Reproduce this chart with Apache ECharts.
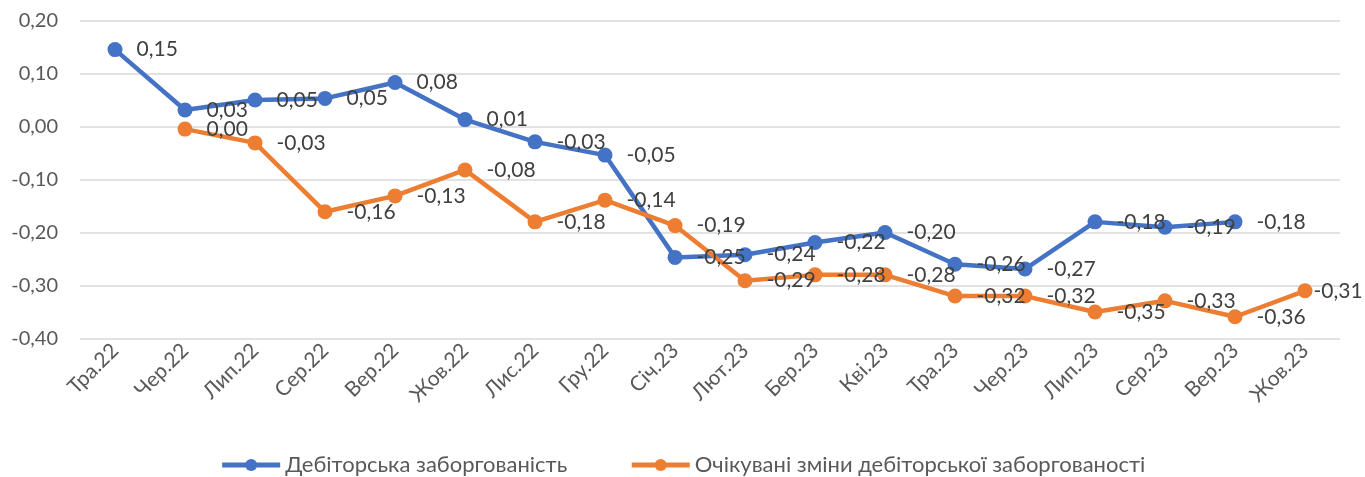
<!DOCTYPE html>
<html>
<head>
    <meta charset="utf-8" />
    <title></title>
    <script src="https://cdn.jsdelivr.net/npm/echarts@6/dist/echarts.min.js"></script>
    <style>
        html, body { margin: 0; padding: 0; background: #fff; }
    </style>
</head>
<body>
    <div id="main" style="width: 1365px; height: 477px;"></div>
    <script type="text/javascript">
        // місяці
        var months = ['Тра.22', 'Чер.22', 'Лип.22', 'Сер.22', 'Вер.22', 'Жов.22', 'Лис.22', 'Гру.22', 'Січ.23',
            'Лют.23', 'Бер.23', 'Кві.23', 'Тра.23', 'Чер.23', 'Лип.23', 'Сер.23', 'Вер.23', 'Жов.23'];
        var debtName = 'Дебіторська заборгованість';
        var expectName = 'Очікувані зміни дебіторської заборгованості';
        // значення
        var debt = [0.146, 0.032, 0.051, 0.054, 0.084, 0.014, -0.028, -0.053, -0.246,
            -0.241, -0.218, -0.199, -0.259, -0.268, -0.179, -0.189, -0.179, null];
        var expect = [null, -0.004, -0.030, -0.160, -0.130, -0.081, -0.179, -0.138, -0.186,
            -0.290, -0.279, -0.279, -0.319, -0.319, -0.349, -0.328, -0.358, -0.309];

        var font = 'Lato, "Open Sans", sans-serif';

        function fmt(v) {
            var r = Math.round(v * 100) / 100;
            if (r === 0) r = 0;
            return r.toFixed(2).replace('.', ',');
        }

        // останній підпис притиснутий до маркера, щоб не вилазив за край
        var expectData = expect.map(function (v, i) {
            if (i === expect.length - 1) {
                return { value: v, label: { distance: 1 } };
            }
            return v;
        });

        var myChart = echarts.init(document.getElementById('main'));
        var option = {
            animation: false,
            color: ['#4472C4', '#ED7D31'],
            grid: {
                left: 80,
                right: 25,
                top: 21,
                bottom: 138
            },
            legend: {
                top: 449,
                left: 'center',
                itemWidth: 58,
                itemHeight: 15,
                itemGap: 62,
                lineStyle: { width: 5 },
                textStyle: { fontFamily: font, fontSize: 22, color: '#595959' },
                data: [debtName, expectName]
            },
            xAxis: {
                type: 'category',
                data: months,
                boundaryGap: true,
                axisLine: { show: false },
                axisTick: { show: false },
                axisLabel: {
                    rotate: 45,
                    margin: 8,
                    interval: 0,
                    fontFamily: font,
                    fontSize: 21,
                    color: '#595959'
                }
            },
            yAxis: {
                type: 'value',
                min: -0.4,
                max: 0.2,
                interval: 0.1,
                axisLabel: {
                    margin: 22,
                    fontFamily: font,
                    fontSize: 20,
                    color: '#595959',
                    formatter: function (v) { return fmt(v); }
                },
                splitLine: { lineStyle: { color: '#d9d9d9', width: 1.5 } }
            },
            series: [
                {
                    name: debtName,
                    type: 'line',
                    data: debt,
                    symbol: 'circle',
                    symbolSize: 15,
                    lineStyle: { width: 4.5 },
                    label: {
                        show: true,
                        position: 'right',
                        distance: 14,
                        fontFamily: font,
                        fontSize: 21,
                        color: '#404040',
                        formatter: function (p) { return fmt(p.value); }
                    }
                },
                {
                    name: expectName,
                    type: 'line',
                    data: expectData,
                    symbol: 'circle',
                    symbolSize: 15,
                    lineStyle: { width: 4.5 },
                    label: {
                        show: true,
                        position: 'right',
                        distance: 14,
                        fontFamily: font,
                        fontSize: 21,
                        color: '#404040',
                        formatter: function (p) { return fmt(p.value); }
                    }
                }
            ]
        };
        myChart.setOption(option);
    </script>
</body>
</html>
